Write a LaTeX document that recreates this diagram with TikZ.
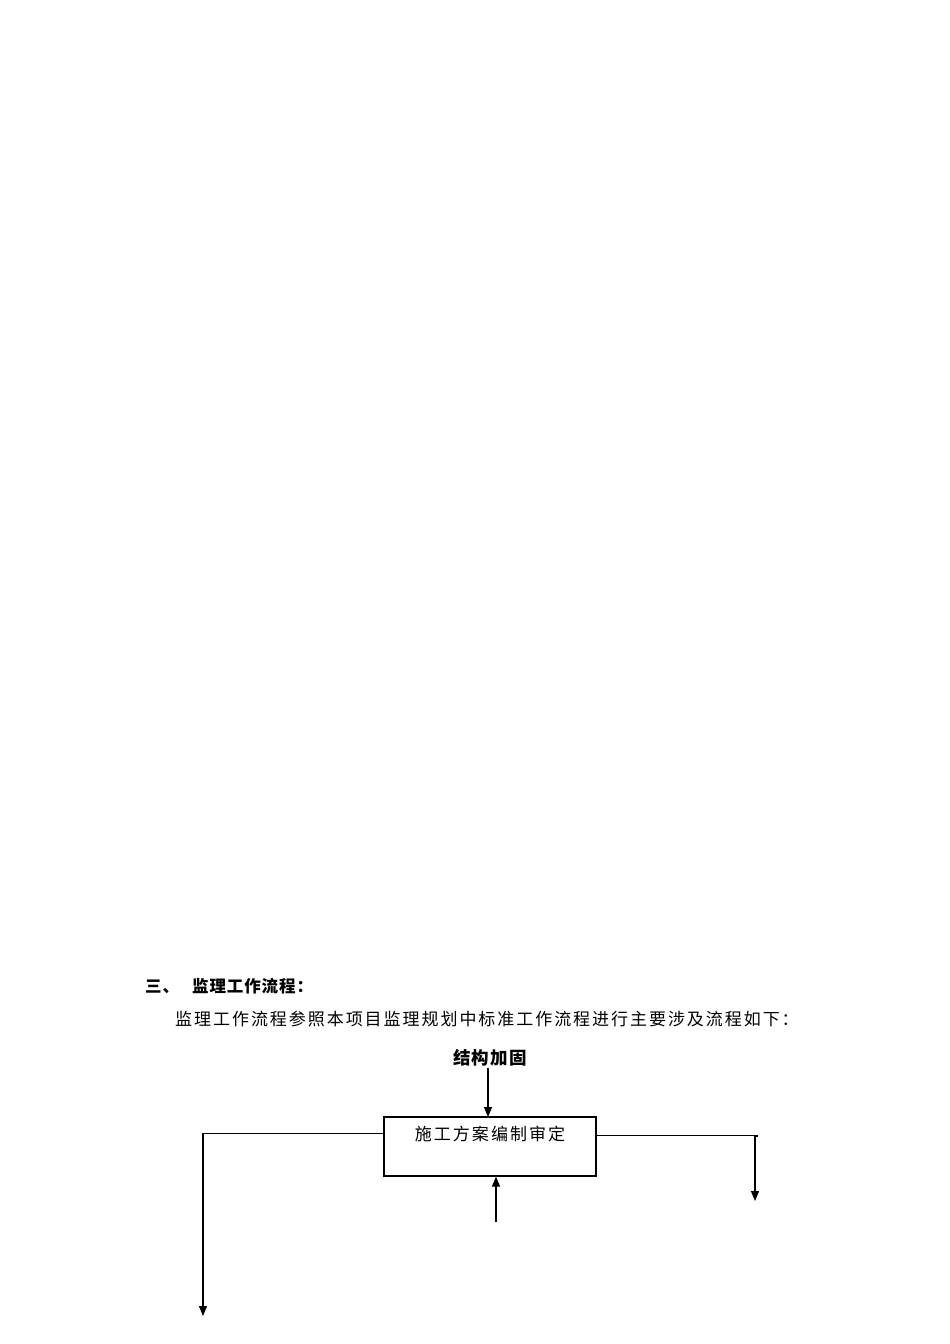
\documentclass[tikz,border=0pt]{standalone}
\usepackage{fontspec}
\usepackage{tikz}
\usetikzlibrary{arrows.meta}
\setmainfont{Noto Sans CJK SC}
\newfontfamily\headfont[LetterSpace=5.5]{Noto Sans CJK SC}
\newfontfamily\bodyfont[LetterSpace=11.5]{Noto Sans CJK SC}
\newfontfamily\boxfont[LetterSpace=12]{Noto Sans CJK SC}
\newfontfamily\topfont[LetterSpace=7]{Noto Sans CJK SC}
\tikzset{
  txt/.style={inner sep=0pt,anchor=base west},
  planbox/.style={draw,line width=1.2pt,inner sep=0pt,minimum width=212pt,
    text height=23pt,text depth=36pt,anchor=base},
  flow/.style={line width=1.2pt,-{Triangle[width=8pt,length=10pt]}},
  wire/.style={line width=1.2pt}
}
\def\arr{\draw[flow]}

\begin{document}
\begin{tikzpicture}[x=1pt,y=-1pt]
  \useasboundingbox (0,0) rectangle (950,1344);
  \node[txt] (head) at (145,992) {\headfont\fontsize{16.5}{18}\selectfont\bfseries 三、\hspace{13pt}监理工作流程：};
  \node[txt] (intro) at (175,1025) {\bodyfont\fontsize{17}{19}\selectfont 监理工作流程参照本项目监理规划中标准工作流程进行主要涉及流程如下：};
  \node[inner sep=0pt,anchor=base] (jgjg) at (490,1064) {\topfont\fontsize{17.5}{19}\selectfont\bfseries 结构加固};
  \node[planbox] (plan) at (490,1140) {\boxfont\fontsize{17}{19}\selectfont 施工方案编制审定};
  \coordinate (ltip) at (203,1316);
  \coordinate (rtip) at (755,1201);
  \coordinate (upfoot) at (496,1222);
  % connectors
  \arr (488,1068) -- (488,1117);
  \arr (upfoot) -- (upfoot |- plan.south);
  \arr ([yshift=-17pt]plan.north west) -| (ltip);
  \arr ([yshift=-19pt]plan.north east) -| (rtip);
  \draw[wire] (rtip |- 0,1136) -- ++(3,0);
\end{tikzpicture}
\end{document}
